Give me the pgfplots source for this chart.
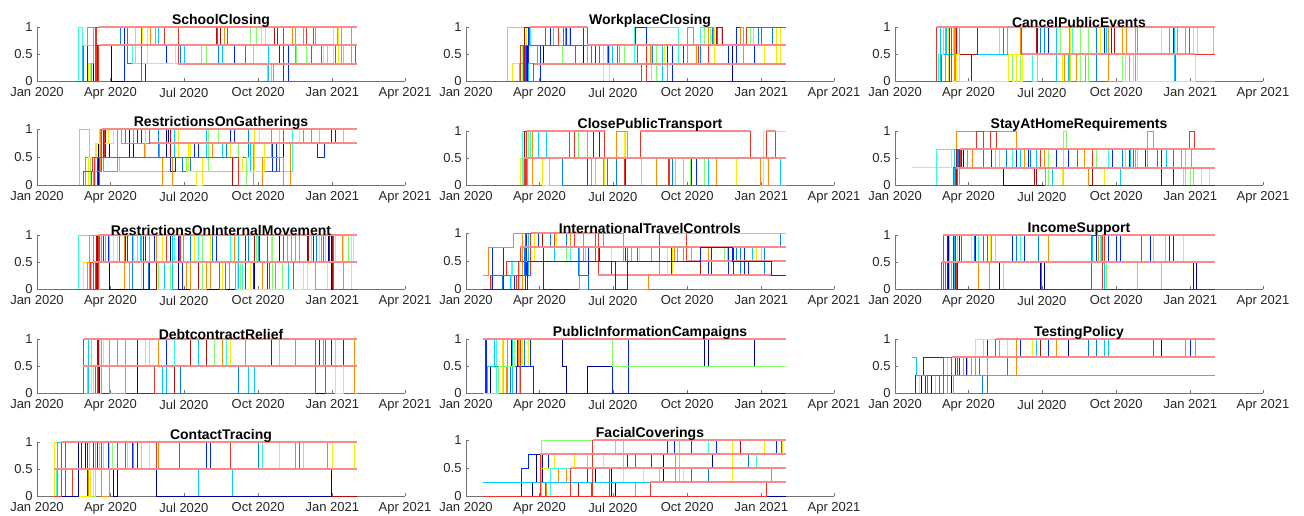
\documentclass[border=0pt]{standalone}
\usepackage{fontspec}
\setmainfont{Liberation Sans}
\usepackage{pgfplots}
\pgfplotsset{compat=1.18}
\definecolor{c1}{rgb}{0,0,0.62}
\definecolor{c2}{rgb}{0,0.15,1}
\definecolor{c3}{rgb}{0,0.5,1}
\definecolor{c4}{rgb}{0,0.8,1}
\definecolor{c5}{rgb}{0.2,1,0.85}
\definecolor{c6}{rgb}{0.5,1,0.4}
\definecolor{c7}{rgb}{1,0.92,0}
\definecolor{c8}{rgb}{1,0.55,0}
\definecolor{c9}{rgb}{0.93,0.2,0.15}
\definecolor{c10}{rgb}{0.7,0.05,0.05}
\definecolor{lv}{rgb}{0.96,0.55,0.53}
\newcommand{\ser}[2]{\addplot[draw=#1] coordinates {#2};}
\newcommand{\lev}[1]{\addplot[draw=lv, line width=2pt] coordinates {#1};}
\pgfplotsset{panel/.style={
  scale only axis, width=368pt, height=54pt, anchor=south west,
  xmin=0, xmax=456, ymin=0, ymax=1, clip=false,
  xtick={0,91,182,274,366,456},
  xticklabels={Jan 2020,Apr 2020,Jul 2020,Oct 2020,Jan 2021,Apr 2021},
  ytick={0,0.5,1}, yticklabels={0,0.5,1},
  axis x line*=bottom, axis y line*=left,
  axis line style={-, draw=black!55, line width=0.6pt},
  tick align=inside, major tick length=3pt,
  tick style={draw=black!55, line width=0.6pt},
  tick label style={font=\fontsize{13}{15}\selectfont, text=black!85, inner sep=1pt},
  xticklabel style={yshift=-5pt},
  yticklabel style={xshift=-3.3pt},
  title style={at={(0.5,1)}, anchor=south, inner sep=2pt, yshift=-8pt, font=\bfseries\fontsize{14}{16}\selectfont},
  no markers,
  every axis plot/.append style={const plot, line width=1pt},
}}
\begin{document}
\begin{tikzpicture}
\path[use as bounding box] (0,0) rectangle (1304pt,516pt);
% ---------- Row 1 ----------
\begin{axis}[panel, at={(37pt,434.5pt)}, title={SchoolClosing}]
\ser{c1}{(21,0)(70,0.667)(92,0)(396,0)}
\ser{c2}{(21,0)(62,1)(109,0)(135,0.333)(160,0.667)(245,0.333)(300,0.667)(312,0)(396,0)}
\ser{c3}{(21,0)(58,0.667)(104,1)(112,0.333)(178,0.667)(225,0.333)(258,0.667)(340,0.333)(352,0.667)(395,0.333)(396,0.333)}
\ser{c4}{(21,0)(56,0.667)(63,1)(150,0.667)(183,0.333)(230,0.667)(287,0)(293,0.333)(320,0.667)(330,1)(345,0.667)(396,0.667)}
\ser{c5}{(21,0)(51,1)(56,0.667)(118,0.333)(196,0.333)(204,0.667)(268,0.333)(285,0)(290,0.333)(360,0.667)(380,0.333)(396,0.333)}
\ser{c6}{(21,0)(66,0.333)(72,1)(122,0.333)(210,0.667)(265,1)(272,0.667)(322,0.333)(334,0.667)(396,0.667)}
\ser{c7}{(21,0)(64,0.333)(73,0.667)(131,1)(137,0.333)(172,0.667)(278,1)(283,0.667)(355,0.333)(368,1)(374,0.333)(396,0.333)}
\ser{c8}{(21,0)(68,0.333)(70,1)(141,0.667)(147,1)(232,0.667)(316,1)(320,0.667)(372,1)(377,0.333)(390,1)(396,1)}
\ser{c10}{(21,0)(75,0.667)(222,1)(227,0.667)(294,1)(298,0.667)(305,0)(396,0)}
\ser{c9}{(21,0)(74,1)(129,0)(396,0)}
\ser{c9}{(21,0)(73,1)(224,0.667)(236,1)(306,0.667)(334,1)(342,0.667)(370,0.333)(396,0.333)}
\ser{c9}{(21,0)(76,0.667)(158,1)(175,0.333)(396,0.333)}
\lev{(175,0.333)(396,0.333)}
\lev{(77,1)(396,1)}
\lev{(78,0.667)(396,0.667)}
\end{axis}
\begin{axis}[panel, at={(466pt,434.5pt)}, title={WorkplaceClosing}]
\ser{c5}{(21,0)(52,1)(80,0.667)(150,0.333)(209,1)(263,0.333)(275,0.667)(290,1)(300,0.667)(396,0.667)}
\ser{c2}{(21,0)(78,1)(105,0.667)(125,1)(130,0.667)(170,0.333)(176,0.667)(210,1)(224,0.667)(250,0)(256,0.667)(325,0.333)(335,1)(340,0.667)(358,0.333)(396,0.333)}
\ser{c3}{(21,0)(74,0.667)(79,1)(98,0.667)(136,0.333)(188,0.667)(231,0.333)(290,0.667)(305,1)(312,0.667)(362,1)(366,0.667)(380,1)(396,1)}
\ser{c4}{(21,0)(77,0.333)(88,0.667)(115,1)(123,0.667)(175,0.333)(182,0.667)(243,0)(250,0.333)(275,1)(282,0.667)(330,0.333)(396,0.333)}
\ser{c6}{(21,0)(70,0.667)(120,0.333)(196,0.667)(230,0)(236,0.667)(296,1)(303,0.667)(352,1)(356,0.667)(396,0.667)}
\ser{c7}{(21,0)(57,0.333)(67,0.667)(75,1)(128,0.667)(170,0)(178,0.667)(246,0.333)(308,1)(316,0.667)(370,0.333)(385,1)(390,0.333)(396,0.333)}
\ser{c8}{(21,0)(66,0.333)(72,1)(108,0.667)(150,0.333)(190,0.667)(228,0.333)(286,0.667)(300,1)(307,0.667)(340,1)(344,0.333)(396,0.333)}
\ser{c1}{(21,0)(76,0.667)(96,0.333)(146,0.667)(330,0)(396,0)}
\ser{c2}{(21,0)(75,0.667)(92,0)(396,0)}
\ser{c10}{(21,0)(73,1)(145,0.667)(160,0.333)(270,0.667)(310,1)(318,0.667)(396,0.667)}
\ser{c9}{(21,0)(71,0.667)(115,1)(121,0.667)(155,0.333)(165,0.667)(212,0.333)(217,0)(224,0.667)(288,0.333)(300,0.667)(348,1)(396,1)}
\ser{c9}{(21,0)(68,0.667)(79,1)(150,0.667)(396,0.667)}
\ser{c9}{(21,0)(84,0.333)(396,0.333)}
\lev{(79,1)(150,1)}
\lev{(150,0.667)(396,0.667)}
\lev{(84,0.333)(396,0.333)}
\end{axis}
\begin{axis}[panel, at={(895pt,434.5pt)}, title={CancelPublicEvents}]
\ser{c3}{(21,0)(58,0.5)(130,0.5)(135,1)(180,0.5)(185,1)(250,0)(345,0)(347,0.5)(365,1)(396,1)}
\ser{c2}{(21,0)(95,0.5)(176,1)(190,0.5)(260,1)(268,0.5)(345,1)(350,0.5)(396,0.5)}
\ser{c5}{(21,0)(54,0.5)(60,1)(130,0.5)(170,0)(176,0.5)(220,1)(240,0.5)(300,1)(395,0.5)(396,0.5)}
\ser{c7}{(21,0)(66,1)(78,0.5)(150,0)(158,0.5)(208,0)(218,1)(255,0.5)(295,0)(300,0.5)(330,1)(370,0.5)(396,0.5)}
\ser{c8}{(21,0)(62,1)(75,0)(80,1)(140,0.5)(210,0)(216,1)(265,0)(298,1)(350,0.5)(360,1)(396,1)}
\ser{c6}{(21,0)(68,0.5)(72,1)(130,0.5)(145,0)(155,0.5)(205,1)(230,0)(240,1)(282,0)(286,0.5)(375,1)(396,1)}
\ser{c4}{(21,0)(56,1)(64,0.5)(175,1)(200,0)(215,0.5)(262,1)(300,0.5)(340,1)(346,0)(396,0)}
\ser{c10}{(21,0)(67,1)(76,0.5)(102,1)(175,0.5)(272,1)(396,1)}
\ser{c8}{(21,0)(74,1)(155,0.5)(225,0)(236,0.5)(282,1)(287,0.5)(290,0)(396,0)}
\ser{c7}{(21,0)(76,0.5)(80,0)(141,0.5)(285,0)(372,0.5)(396,0.5)}
\ser{c9}{(21,0)(70,1)(157,0.5)(372,0.5)(396,0.5)}
\ser{c9}{(21,0)(52,1)(396,1)}
\lev{(157,0.5)(372,0.5)}
\lev{(52,1)(396,1)}
\end{axis}
% ---------- Row 2 ----------
\begin{axis}[panel, height=56pt, at={(37pt,330.5pt)}, title={RestrictionsOnGatherings}]
\ser{c5}{(21,0)(53,1)(65,0.5)(102,0.25)(317,1)(350,0.75)(370,1)(380,0.75)(396,0.75)}
\ser{c2}{(21,0)(72,0.5)(85,1)(125,0.75)(130,1)(160,0.75)(165,0.25)(172,0.5)(195,0.75)(200,0.5)(240,1)(245,0.75)(292,0.25)(297,0.75)(348,0.5)(356,0.75)(365,1)(370,0.75)(396,0.75)}
\ser{c1}{(21,0)(76,0.75)(90,0.5)(115,1)(120,0.5)(160,1)(163,0.75)(305,0)(396,0)}
\ser{c3}{(21,0)(68,0.25)(80,1)(110,0.75)(140,1)(150,0.5)(180,0.25)(190,0.75)(235,0.5)(262,1)(270,0.25)(300,0.75)(305,1)(396,1)}
\ser{c4}{(21,0)(60,0.5)(82,0.25)(100,1)(120,0.75)(152,0.5)(170,1)(210,0.5)(230,0.75)(265,0.25)(282,0.5)(290,1)(330,0.75)(340,1)(396,1)}
\ser{c6}{(21,0)(66,0.5)(78,1)(135,0.5)(185,0.25)(212,1)(225,0.75)(250,0)(260,0.5)(300,1)(325,0.75)(396,0.75)}
\ser{c7}{(21,0)(64,0.5)(74,0.75)(95,1)(140,0.75)(188,0.25)(198,0)(205,0.5)(244,0.25)(270,1)(276,0.75)(396,0.75)}
\ser{c8}{(21,0)(70,0.25)(79,1)(105,0.75)(133,0.5)(155,0)(168,0.5)(218,0.75)(268,0)(280,0.5)(305,0)(314,0.75)(396,0.75)}
\ser{c7}{(21,0)(73,0.75)(88,1)(175,0.5)(190,0.75)(240,0.5)(255,0.25)(282,0.75)(325,1)(396,1)}
\ser{c10}{(21,0)(75,0.5)(82,1)(165,0.5)(242,0)(396,0)}
\ser{c9}{(21,0)(78,0.5)(242,0.5)(250,0)(396,0)}
\ser{c9}{(21,0)(57,0.25)(69,0.5)(84,1)(140,0.75)(396,0.75)}
\ser{c9}{(21,0)(71,0.5)(80,1)(396,1)}
\lev{(140,0.75)(396,0.75)}
\lev{(80,1)(396,1)}
\end{axis}
\begin{axis}[panel, at={(466pt,330.5pt)}, title={ClosePublicTransport}]
\ser{c7}{(21,0)(68,0.5)(95,0)(172,0.5)(196,1)(198,0.5)(335,0)(369,1)(396,1)}
\ser{c5}{(21,0)(70,1)(80,0.5)(103,0)(160,0.5)(175,0)(260,0.5)(270,0)(396,0)}
\ser{c4}{(21,0)(74,0.5)(90,1)(100,0.5)(170,0)(285,0.5)(300,0)(390,0.5)(396,0.5)}
\ser{c8}{(21,0)(76,0.5)(140,1)(150,0.5)(155,0)(236,0.5)(310,0)(375,0.5)(396,0.5)}
\ser{c2}{(21,0)(72,1)(78,0.5)(158,1)(165,0.5)(198,0)(280,0.5)(285,0)(396,0)}
\ser{c6}{(21,0)(71,0.5)(78,1)(82,0.5)(135,1)(140,0.5)(218,0)(278,0.5)(296,0)(396,0)}
\ser{c10}{(21,0)(73,1)(75,0.5)(150,0)(396,0)}
\ser{c3}{(21,0)(82,0.5)(120,0)(175,0.5)(186,0)(252,0.5)(256,0)(396,0)}
\ser{c8}{(21,0)(82,1)(135,0.5)(186,1)(200,0.5)(365,0)(396,0)}
\ser{c9}{(21,0)(74,0.5)(128,1)(134,0.5)(196,0)(251,0.5)(396,0.5)}
\ser{c9}{(21,0)(72,0.5)(396,0.5)}
\ser{c9}{(21,0)(75,1)(172,0.5)(216,1)(352,0.5)(372,1)(384,0.5)(396,0.5)}
\lev{(72,0.5)(396,0.5)}
\lev{(75,1)(172,1)}
\lev{(216,1)(352,1)}
\lev{(372,1)(384,1)}
\end{axis}
\begin{axis}[panel, at={(895pt,330.5pt)}, title={StayAtHomeRequirements}]
\ser{c7}{(21,0.333)(70,0.667)(120,0.333)(207,0)(260,0.333)(330,0.667)(345,0.333)(380,0)(390,0.333)(396,0.333)}
\ser{c5}{(21,0)(52,0.667)(125,0.333)(145,0.667)(265,0.333)(300,0.667)(360,0)(370,0.333)(396,0.333)}
\ser{c8}{(21,0)(76,1)(151,0.333)(185,0.667)(235,0.333)(313,1)(320,0.667)(396,0.667)}
\ser{c2}{(21,0)(75,0.333)(82,0.667)(120,0.333)(150,0.667)(165,0.333)(200,0.667)(215,0.333)(270,0.667)(290,0.333)(310,0.667)(330,0)(345,0.333)(396,0.333)}
\ser{c6}{(21,0)(77,0.667)(96,0.333)(130,0.667)(190,0)(209,1)(212,0.667)(250,0.333)(285,0.667)(300,0.333)(358,0)(366,0.333)(396,0.333)}
\ser{c3}{(21,0)(73,0.333)(79,0.667)(110,0.333)(138,0.667)(168,0.333)(226,0.667)(282,0.333)(296,0.667)(325,0.333)(345,0.667)(396,0.667)}
\ser{c4}{(21,0)(74,0.667)(90,0.333)(155,0.667)(175,0)(195,0.333)(245,0)(280,0.333)(292,0.667)(336,0.333)(396,0.333)}
\ser{c1}{(21,0)(78,0.667)(85,0.333)(135,0)(396,0)}
\ser{c10}{(21,0)(76,0.667)(80,0.333)(173,0)(175,0.333)(245,0)(396,0)}
\ser{c8}{(21,0)(80,0.333)(96,0.667)(160,0.333)(186,0)(240,0.333)(298,0.667)(355,0.333)(368,0.667)(396,0.667)}
\ser{c9}{(21,0)(78,0.667)(101,1)(110,0.667)(118,1)(126,0.667)(180,0.333)(245,0.667)(365,1)(371,0.667)(396,0.667)}
\ser{c9}{(21,0)(72,0.333)(81,0.667)(396,0.667)}
\ser{c9}{(21,0)(75,0.333)(396,0.333)}
\lev{(81,0.667)(396,0.667)}
\lev{(75,0.333)(396,0.333)}
\end{axis}
% ---------- Row 3 ----------
\begin{axis}[panel, at={(37pt,226.5pt)}, title={RestrictionsOnInternalMovement}]
\ser{c5}{(21,0)(52,1)(90,0.5)(125,1)(170,0.5)(200,1)(240,0.5)(255,0)(280,0.5)(320,1)(350,0.5)(396,0.5)}
\ser{c7}{(21,0)(57,0.5)(78,1)(100,0.5)(130,0)(150,0.5)(195,1)(215,0.5)(230,0)(265,0.5)(290,1)(300,0.5)(330,0)(360,0.5)(380,1)(390,0)(396,0)}
\ser{c2}{(21,0)(75,1)(88,0.5)(110,1)(135,0.5)(145,1)(160,0.5)(180,0)(205,1)(222,0.5)(268,0)(285,1)(300,0.5)(335,1)(342,0.5)(362,1)(396,1)}
\ser{c8}{(21,0)(62,0.5)(70,1)(108,0)(115,0.5)(140,1)(175,0.5)(185,0)(215,0.5)(245,1)(270,0.5)(310,1)(325,0.5)(345,0)(365,1)(378,0.5)(396,0.5)}
\ser{c4}{(21,0)(70,1)(80,0.5)(95,1)(128,0.5)(158,0)(168,1)(182,0.5)(238,0)(250,1)(275,0.5)(295,0)(312,0.5)(352,1)(370,0.5)(396,0.5)}
\ser{c6}{(21,0)(68,0.5)(74,1)(120,0.5)(150,0)(165,0.5)(190,1)(205,0)(252,0.5)(272,1)(292,0)(304,0.5)(340,1)(358,0.5)(386,1)(396,1)}
\ser{c3}{(21,0)(72,0.5)(82,1)(118,0)(138,0.5)(176,1)(190,0.5)(218,1)(262,0.5)(288,0)(318,0.5)(346,1)(365,0.5)(396,0.5)}
\ser{c10}{(21,0)(74,1)(82,0.5)(112,1)(132,0)(148,0.5)(200,0)(258,1)(270,0.5)(336,1)(366,0)(396,0)}
\ser{c1}{(21,0)(76,0.5)(90,0)(140,0.5)(165,1)(175,0)(270,0.5)(276,1)(300,0.5)(361,1)(365,0)(396,0)}
\ser{c8}{(21,0)(65,1)(85,0.5)(130,1)(148,0.5)(190,0)(210,0.5)(246,0)(280,0.5)(315,1)(320,0.5)(380,0)(396,0)}
\ser{c7}{(21,0)(78,0.5)(95,1)(155,0.5)(248,0)(335,0.5)(350,1)(370,0.5)(392,1)(396,1)}
\ser{c9}{(21,0)(66,0.5)(77,1)(102,0.5)(160,1)(178,0.5)(226,0)(234,0.5)(285,1)(305,0.5)(355,1)(368,0)(396,0)}
\ser{c9}{(21,0)(70,0.5)(396,0.5)}
\ser{c9}{(21,0)(76,1)(396,1)}
\lev{(70,0.5)(396,0.5)}
\lev{(76,1)(396,1)}
\end{axis}
\begin{axis}[panel, height=56pt, at={(466pt,226.5pt)}, title={InternationalTravelControls}]
\ser{c5}{(21,0)(32,0.25)(58,0.5)(130,0.75)(148,0.5)(273,1)(396,1)}
\ser{c2}{(21,0)(33,0.75)(46,0)(60,0.25)(75,1)(90,0.75)(96,0)(152,0.75)(165,0.5)(198,0.75)(250,0.25)(255,0.75)(300,0.25)(304,0.75)(325,0.25)(331,0.75)(345,0.25)(350,0.5)(396,0.5)}
\ser{c8}{(21,0)(70,1)(130,0.75)(141,0)(226,0.25)(240,0.5)(262,0.75)(280,0.5)(396,0.5)}
\ser{c6}{(21,0)(56,0.5)(80,1)(125,0.5)(160,0.75)(200,0.5)(250,0.75)(258,0.5)(320,0.75)(324,0.5)(366,0.75)(370,0.5)(396,0.5)}
\ser{c3}{(21,0)(45,0.25)(72,0.75)(105,1)(125,0.75)(140,0.25)(152,0)(185,0.5)(200,0.75)(212,0.5)(240,0.75)(290,0.5)(335,0.75)(340,0.25)(370,0.75)(390,1)(396,1)}
\ser{c4}{(21,0)(55,0.25)(78,1)(110,0.5)(145,1)(170,0.75)(230,0.5)(270,0.75)(355,0.5)(396,0.5)}
\ser{c7}{(21,0)(66,0.5)(85,1)(112,0.75)(180,0.5)(215,0.75)(250,0.25)(256,0.75)(360,0.5)(396,0.5)}
\ser{c10}{(21,0)(74,1)(95,0.75)(164,0.25)(180,0.5)(255,0.25)(290,0.5)(396,0.5)}
\ser{c8}{(21,0.25)(28,0.75)(59,1)(195,0.5)(205,0.75)(250,0.75)(258,0.5)(300,0.75)(396,0.75)}
\ser{c9}{(21,0)(65,0.5)(74,1)(110,0.75)(135,1)(160,0.5)(240,1)(273,0.5)(396,0.5)}
\ser{c9}{(21,0)(30,0.25)(50,0.5)(67,0.75)(396,0.75)}
\ser{c9}{(21,0)(62,0.25)(80,1)(164,0.25)(379,0.5)(396,0.5)}
\lev{(67,0.75)(396,0.75)}
\lev{(80,1)(164,1)}
\lev{(164,0.25)(379,0.25)}
\lev{(273,0.5)(396,0.5)}
\ser{c2}{(21,0)(76,0.5)(185,0)(200,0.5)(290,0.75)(330,0.5)(379,0.25)(396,0.25)}
\ser{c5}{(240,1)(273,1)(396,1)}
\end{axis}
\begin{axis}[panel, at={(895pt,226.5pt)}, title={IncomeSupport}]
\ser{c2}{(21,0)(65,1)(95,0.5)(120,1)(145,0.5)(160,1)(252,0.5)(265,1)(316,0.5)(396,0.5)}
\ser{c3}{(21,0)(62,0.5)(98,1)(110,0.5)(150,1)(178,0.5)(182,0)(396,0)}
\ser{c5}{(21,0)(68,1)(103,0.5)(155,1)(255,0.5)(300,0)(330,0.5)(335,1)(396,1)}
\ser{c6}{(21,0)(72,0.5)(78,1)(125,0.5)(135,0)(262,0.5)(320,1)(396,1)}
\ser{c8}{(21,0)(70,0.5)(104,0)(117,0.5)(190,1)(252,0.5)(256,1)(396,1)}
\ser{c4}{(21,0)(74,1)(120,0.5)(245,1)(260,0)(396,0)}
\ser{c7}{(21,0)(75,0.5)(95,1)(118,0.5)(357,1)(396,1)}
\ser{c1}{(21,0)(66,1)(100,0.5)(130,0)(180,0.5)(185,0)(370,0.5)(374,0)(396,0)}
\ser{c10}{(21,0)(73,1)(75,0)(396,0)}
\ser{c2}{(21,0)(78,0.5)(80,1)(250,0.5)(260,1)(275,0.5)(280,1)(340,0.5)(345,1)(396,1)}
\ser{c9}{(21,0)(76,0.5)(82,1)(114,0.5)(260,1)(305,0.5)(396,0.5)}
\ser{c9}{(21,0)(58,0.5)(396,0.5)}
\ser{c9}{(21,0)(60,1)(243,0)(257,1)(396,1)}
\lev{(58,0.5)(396,0.5)}
\lev{(60,1)(243,1)}
\lev{(257,1)(396,1)}
\end{axis}
% ---------- Row 4 ----------
\begin{axis}[panel, at={(37pt,122.5pt)}, title={DebtcontractRelief}]
\ser{c2}{(21,0)(58,1)(75,0.5)(125,1)(160,0.5)(190,1)(290,0.5)(350,1)(365,0.5)(380,1)(396,1)}
\ser{c4}{(21,0)(64,1)(100,0.5)(155,0)(160,0.5)(200,1)(258,0.5)(262,0)(270,0.5)(320,1)(355,0.5)(396,0.5)}
\ser{c5}{(21,0)(62,0.5)(68,1)(170,0.5)(235,1)(300,0.5)(396,0.5)}
\ser{c1}{(21,0)(78,0.5)(125,0)(396,0)}
\ser{c3}{(21,0)(72,0.5)(80,1)(110,0.5)(178,0)(250,0.5)(345,1)(358,0)(396,0)}
\ser{c6}{(21,0)(70,0.5)(78,1)(140,0.5)(220,1)(370,0.5)(396,0.5)}
\ser{c7}{(21,0)(67,0.5)(82,1)(135,0.5)(230,1)(240,0.5)(370,0)(380,0.5)(396,0.5)}
\ser{c10}{(21,0)(76,1)(80,0)(170,0.5)(190,1)(210,0.5)(396,0.5)}
\ser{c9}{(21,0)(75,0.5)(145,0)(345,0.5)(396,0.5)}
\ser{c8}{(21,0)(80,1)(90,0)(110,1)(150,0.5)(230,1)(394,0)(396,0)}
\ser{c9}{(21,0)(57,0.5)(396,0.5)}
\ser{c9}{(21,0)(58,1)(396,1)}
\lev{(57,0.5)(396,0.5)}
\lev{(58,1)(396,1)}
\end{axis}
\begin{axis}[panel, at={(466pt,122.5pt)}, title={PublicInformationCampaigns}]
\ser{c2}{(21,0)(25,1)(60,1)(64,0.5)(80,1)(181,0)(201,1)(396,1)}
\ser{c1}{(21,0)(30,0.5)(56,1)(120,0.5)(125,0)(150,0.5)(296,1)(300,0.5)(358,1)(396,1)}
\ser{c7}{(21,0)(45,1)(70,0.5)(78,1)(396,1)}
\ser{c8}{(21,0)(50,0.5)(65,1)(396,1)}
\ser{c4}{(21,0)(27,0.5)(35,1)(52,0)(58,1)(396,1)}
\ser{c5}{(21,0)(38,1)(47,0)(66,1)(396,1)}
\ser{c3}{(21,0)(55,0.5)(73,1)(396,1)}
\ser{c2}{(21,0)(62,0.5)(84,0)(396,0)}
\ser{c10}{(21,0)(24,1)(396,1)}
\ser{c9}{(21,0)(68,1)(396,1)}
\ser{c6}{(21,0)(40,0.5)(60,1)(181,0.5)(396,0.5)}
\lev{(21,1)(396,1)}
\end{axis}
\begin{axis}[panel, at={(895pt,122.5pt)}, title={TestingPolicy}]
\ser{c2}{(21,0)(25,0.333)(35,0.667)(80,0.333)(95,0.667)(115,1)(155,0.667)(190,1)(360,0.667)(366,1)(396,1)}
\ser{c6}{(21,0)(50,0.333)(90,0.667)(110,1)(396,1)}
\ser{c7}{(21,0)(30,0.333)(65,0.667)(100,1)(140,0.667)(170,1)(396,1)}
\ser{c8}{(21,0)(45,0.333)(85,0.667)(130,1)(150,0.667)(200,1)(396,1)}
\ser{c3}{(21,0)(55,0.333)(78,0.667)(105,0.333)(108,0)(115,0.333)(140,0.667)(240,1)(250,0.667)(320,1)(330,0.667)(396,0.667)}
\ser{c4}{(21,0)(65,0.333)(100,0.667)(175,1)(260,0.667)(265,1)(360,0.667)(372,1)(396,1)}
\ser{c1}{(21,0)(33,0.333)(45,0)(70,0.333)(88,0.667)(215,1)(330,0.667)(396,0.667)}
\ser{c10}{(21,0)(38,0.333)(75,0.667)(180,1)(396,1)}
\ser{c8}{(21,0)(72,0.333)(95,0.667)(115,0.333)(150,0.667)(396,0.667)}
\ser{c4}{(21,0.667)(27,0.333)(396,0.333)}
\ser{c9}{(21,0)(40,0.333)(70,0.667)(396,0.667)}
\ser{c9}{(21,0)(60,0.667)(125,1)(396,1)}
\lev{(70,0.667)(396,0.667)}
\lev{(125,1)(396,1)}
\end{axis}
% ---------- Row 5 ----------
\begin{axis}[panel, at={(37pt,19.5pt)}, title={ContactTracing}]
\ser{c7}{(21,0)(22,1)(25,0)(70,1)(80,0.5)(150,1)(275,0.5)(300,1)(330,0.5)(396,0.5)}
\ser{c2}{(21,0)(30,0.5)(55,1)(75,0.5)(88,1)(118,0.5)(124,1)(210,0.5)(215,1)(396,1)}
\ser{c4}{(21,0)(26,1)(70,0.5)(120,1)(148,0.5)(200,0)(242,0.5)(320,1)(360,0.5)(396,0.5)}
\ser{c5}{(21,0)(24,0.5)(65,1)(78,0.5)(148,1)(275,0.5)(280,1)(300,0.5)(396,0.5)}
\ser{c8}{(21,0)(64,0.5)(72,1)(80,0)(90,1)(130,0.5)(150,1)(396,1)}
\ser{c6}{(21,0)(72,0.5)(82,1)(94,0.5)(112,1)(130,0.5)(275,1)(330,0.5)(396,0.5)}
\ser{c10}{(21,0)(63,1)(70,0.5)(148,0)(396,0)}
\ser{c3}{(21,0)(35,1)(80,0.5)(100,1)(176,0.5)(275,1)(396,1)}
\ser{c7}{(21,0)(66,0.5)(90,1)(140,0.5)(300,1)(366,0.5)(394,1)(396,1)}
\ser{c9}{(21,0)(44,0.5)(60,1)(100,0.5)(110,1)(148,0.5)(240,1)(325,0.5)(396,0.5)}
\ser{c1}{(21,0)(52,1)(60,0.5)(95,0)(100,0.5)(148,0)(365,0.5)(396,0.5)}
\ser{c9}{(21,0)(30,1)(396,1)}
\lev{(21,0.5)(396,0.5)}
\lev{(30,1)(396,1)}
\end{axis}
\begin{axis}[panel, height=56pt, at={(466pt,19.5pt)}, title={FacialCoverings}]
\ser{c6}{(21,0)(94,1)(396,1)}
\ser{c2}{(21,0)(69,0.5)(77,0.75)(95,0.5)(102,0.75)(150,0.5)(200,0.75)(250,1)(258,0.75)(300,1)(310,0.75)(385,1)(396,1)}
\ser{c1}{(21,0)(82,0.25)(87,0.75)(95,0.25)(160,0.5)(180,0)(185,0.25)(245,0.75)(305,0.5)(396,0.5)}
\ser{c7}{(21,0)(92,0.5)(110,0.75)(135,0.5)(170,0.75)(195,0.25)(220,0.5)(270,0.25)(330,1)(370,0.75)(392,1)(396,1)}
\ser{c8}{(21,0)(100,0.25)(115,0.5)(125,0.25)(140,0)(210,0.25)(260,0.75)(280,1)(396,1)}
\ser{c5}{(21,0)(105,0.5)(150,0.75)(185,1)(195,0.5)(240,0.25)(265,1)(300,0.75)(360,0.5)(396,0.5)}
\ser{c3}{(21,0)(98,0.25)(155,0)(178,0.5)(210,0.75)(230,0.5)(280,0.25)(300,0.5)(350,0.75)(391,1)(396,1)}
\ser{c10}{(21,0)(140,0.25)(150,0.5)(230,0.75)(280,1)(340,0.75)(396,0.75)}
\ser{c1}{(21,0)(396,0)}
\ser{c4}{(21,0.25)(228,0.25)}
\ser{c4}{(377,0.25)(378,0.5)(396,0.5)}
\ser{c9}{(21,0)(228,0.25)(396,0.25)}
\ser{c9}{(21,0)(130,0.5)(396,0.5)}
\ser{c9}{(21,0)(92,0.75)(396,0.75)}
\ser{c9}{(21,0)(157,1)(396,1)}
\ser{c9}{(21,0)(371,0)(372,0.25)(396,0.25)}
\lev{(228,0.25)(396,0.25)}
\lev{(130,0.5)(396,0.5)}
\lev{(92,0.75)(396,0.75)}
\lev{(157,1)(396,1)}
\end{axis}
\end{tikzpicture}
\end{document}
